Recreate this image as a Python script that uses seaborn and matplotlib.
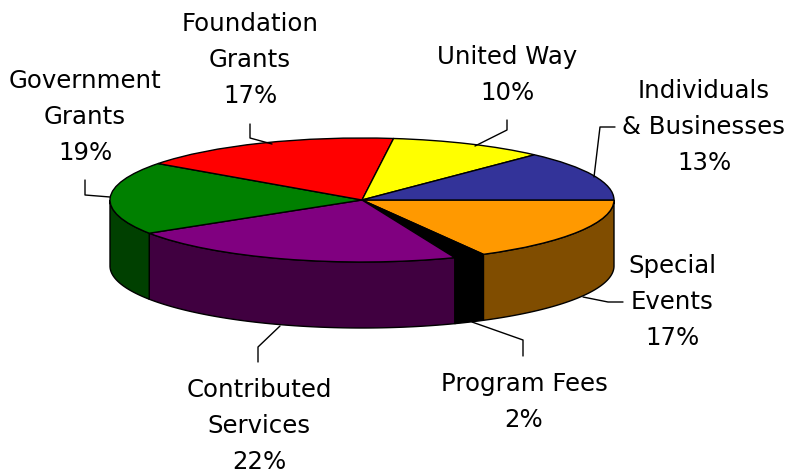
import numpy as np
import matplotlib
matplotlib.use("Agg")
import matplotlib.pyplot as plt
import seaborn as sns

categories = ["Special\nEvents", "Program Fees", "Contributed\nServices", "Government\nGrants",
              "Foundation\nGrants", "United Way", "Individuals\n& Businesses"]
values = [17, 2, 22, 19, 17, 10, 13]
top_colors = ["#FF9900", "#000000", "#800080", "#008000", "#FF0000", "#FFFF00", "#333399"]
side_colors = ["#804D00", "#000000", "#400040", "#004000", "#800000", "#808000", "#1A1A4D"]

sns.set_theme(style="white")
plt.rcParams["font.family"] = ["DejaVu Sans"]

CX, CY, RX, RY, DEPTH = 362, 200, 252, 62, 66
def ux(px): return (px - CX) / RX
def uy(py): return (CY - py) / RY

fig = plt.figure(figsize=(7.88, 4.74), dpi=100)
ax = fig.add_axes([0, 0, 1, 1])
ax.pie(values, colors=sns.color_palette(top_colors), startangle=0, counterclock=False,
       wedgeprops=dict(edgecolor="black", linewidth=1.0, zorder=3))
ax.set_aspect("auto")
ax.set_xlim(ux(0), ux(788))
ax.set_ylim(uy(474), uy(0))
ax.axis("off")

shares = np.cumsum([0] + values) / sum(values) * 360.0
d = DEPTH / RY
for i in range(len(values)):
    a0, a1 = shares[i], min(shares[i + 1], 180.0)
    if a0 >= 180.0:
        continue
    t = np.radians(np.linspace(a0, a1, 80))
    x = np.cos(t)
    y = -np.sin(t)
    ax.fill(np.r_[x, x[::-1]], np.r_[y, y[::-1] - d], facecolor=side_colors[i],
            edgecolor="black", linewidth=1.0, zorder=2)

labels = [f"{c}\n{v}%" for c, v in zip(categories, values)]
label_pos = [(672, 302), (524, 402), (259, 426), (85, 117), (250, 60), (507, 75), (704, 127)]
for s, (px, py) in zip(labels, label_pos):
    ax.text(ux(px), uy(py), s, ha="center", va="center", fontsize=17.6, color="black",
            linespacing=1.61, zorder=5)

leaders = [
    [(583, 297), (608, 302), (623, 302)],
    [(472, 322), (523, 340), (523, 356)],
    [(280, 326), (258, 347), (258, 362)],
    [(110, 197), (85, 195), (85, 180)],
    [(272, 144), (250, 138), (250, 124)],
    [(475, 146), (507, 130), (507, 120)],
    [(594, 177), (600, 127), (615, 127)],
]
for seg in leaders:
    xs, ys = zip(*seg)
    ax.plot([ux(v) for v in xs], [uy(v) for v in ys], color="black", lw=1.0, zorder=4)

fig.savefig("out.png", dpi=100, facecolor="white")
